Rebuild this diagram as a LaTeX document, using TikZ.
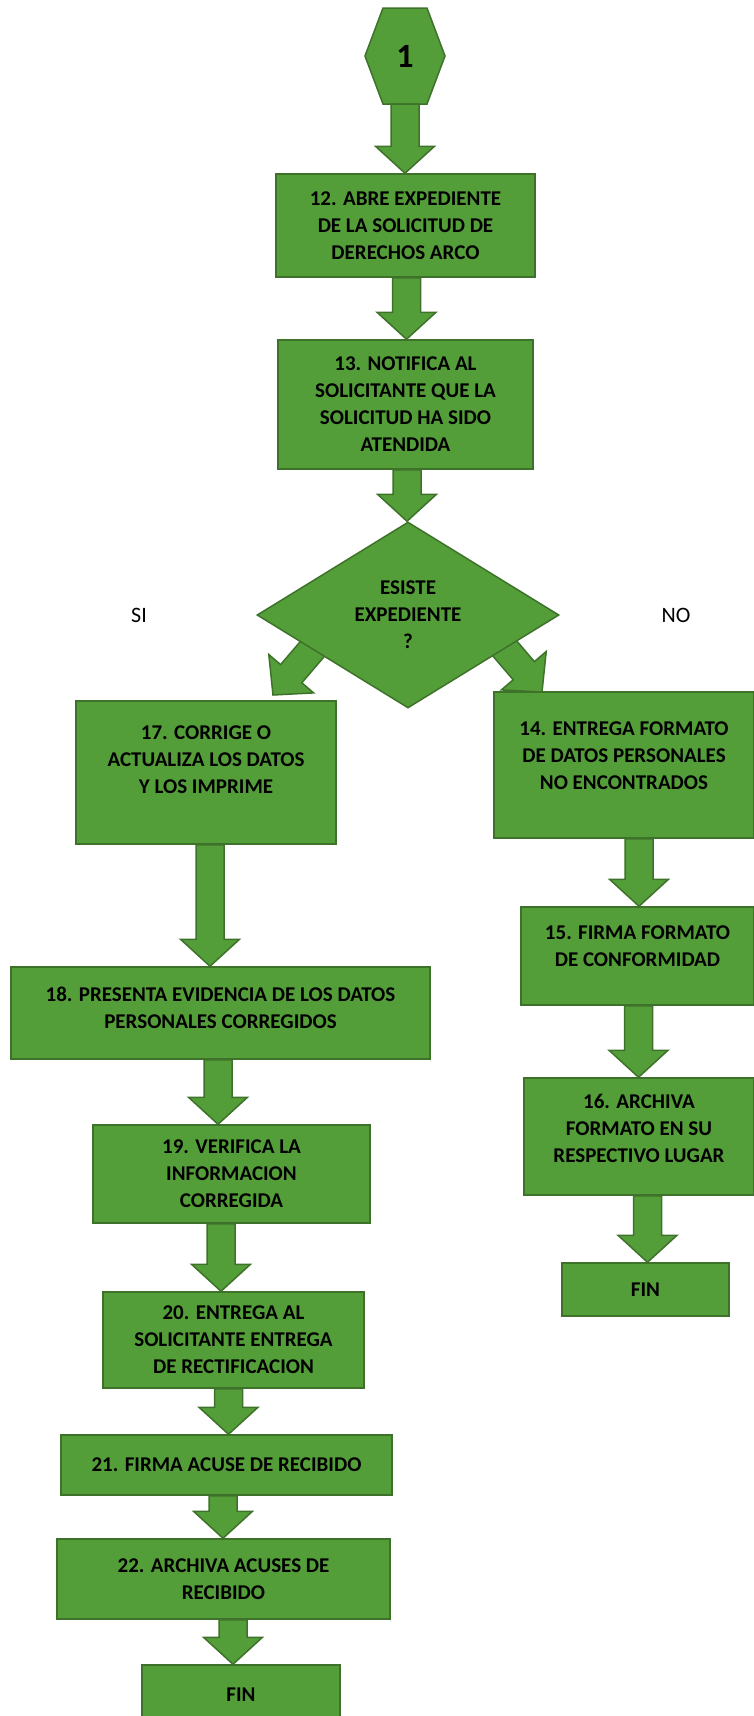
\documentclass[tikz,border=0pt]{standalone}
\usepackage{fontspec}
\setmainfont{Carlito}
\usetikzlibrary{calc,shapes.geometric}
\definecolor{verde}{RGB}{84,158,57}
\definecolor{verdeborde}{RGB}{62,114,42}
\tikzset{
	bloque/.style={draw=verdeborde, fill=verde, line width=1.5pt, line join=miter},
	caja/.style={bloque, rectangle, inner sep=2pt, align=center, font=\fontsize{21}{27}\selectfont\bfseries},
	etiqueta/.style={font=\fontsize{22}{26}\selectfont}
}
% flecha de bloque vertical: x del eje, nodo origen, nodo destino
\newcommand{\flechav}[3]{\draw[bloque] ($(#1,0 |- #2.south)+(-14,0)$) -- ($(#1,0 |- #3.north)+(-14,-27)$) -- ++(-15.5,0) -- (#1,0 |- #3.north) -- ($(#1,0 |- #3.north)+(29.5,-27)$) -- ++(-15.5,0) -- ($(#1,0 |- #2.south)+(14,0)$) -- cycle;}
% flecha de bloque inclinada, punta en (0,0)
\newcommand{\flechadiag}{\draw[bloque] (0,0) -- (40.6,-2.1) -- (28.8,-12.2) -- (62.6,-51.7) -- (41.4,-69.9) -- (7.6,-30.4) -- (-4.2,-40.5) -- cycle;}

\begin{document}
\begin{tikzpicture}[x=1pt, y=-1pt]
		%%%%% INICIO %%%%%
		\useasboundingbox (0,0) rectangle (754,1716);
		
		\draw[bloque] (365,56) -- (383,8) -- (427,8) -- (445,56) -- (427,104) -- (383,104) -- cycle;
		\node[minimum width=80pt, minimum height=96pt, font=\fontsize{34}{36}\selectfont\bfseries] (inicio) at (405,56) {1};
		
		\node[caja, minimum width=259pt, minimum height=103pt] (b12) at (405.5,225.5) {12. ABRE EXPEDIENTE\\DE LA SOLICITUD DE\\DERECHOS ARCO};
		\node[caja, minimum width=255pt, minimum height=129pt] (b13) at (405.5,404.5) {13. NOTIFICA AL\\SOLICITANTE QUE LA\\SOLICITUD HA SIDO\\ATENDIDA};
		
		\flechav{405}{inicio}{b12}
		\flechav{406.5}{b12}{b13}
		
		%%%%% DECISION %%%%%
		\coordinate (puntaSI) at (273,695);
		\coordinate (puntaNO) at (542,692);
		\begin{scope}[shift={(puntaSI)}]
			\flechadiag
		\end{scope}
		\begin{scope}[shift={(puntaNO)}, xscale=-1]
			\flechadiag
		\end{scope}
		
		\node[bloque, diamond, minimum width=302pt, minimum height=186pt, inner sep=0pt, align=center, font=\fontsize{21}{27}\selectfont\bfseries] (existe) at (408,615) {ESISTE\\EXPEDIENTE\\?};
		\flechav{407}{b13}{existe}
		
		\node[etiqueta] (si) at (139,615) {SI};
		\node[etiqueta] (no) at (676,615) {NO};
		
		%%%%% RAMA SI %%%%%
		\node[caja, minimum width=260pt, minimum height=143pt, text depth=25pt] (b17) at (206,772.5) {17. CORRIGE O\\ACTUALIZA LOS DATOS\\Y LOS IMPRIME};
		\node[caja, minimum width=419pt, minimum height=92pt, text depth=11pt] (b18) at (220.5,1013) {18. PRESENTA EVIDENCIA DE LOS DATOS\\PERSONALES CORREGIDOS};
		\node[caja, minimum width=277pt, minimum height=98pt] (b19) at (231.5,1174) {19. VERIFICA LA\\INFORMACION\\CORREGIDA};
		\node[caja, minimum width=261pt, minimum height=96pt] (b20) at (233.5,1340) {20. ENTREGA AL\\SOLICITANTE ENTREGA\\DE RECTIFICACION};
		\node[caja, minimum width=331pt, minimum height=60pt] (b21) at (226.5,1465) {21. FIRMA ACUSE DE RECIBIDO};
		\node[caja, minimum width=333pt, minimum height=80pt] (b22) at (223.5,1579) {22. ARCHIVA ACUSES DE\\RECIBIDO};
		\node[caja, minimum width=198pt, minimum height=60pt] (fin1) at (241,1695) {FIN};
		
		\flechav{210}{b17}{b18}
		\flechav{218}{b18}{b19}
		\flechav{221}{b19}{b20}
		\flechav{228.5}{b20}{b21}
		\flechav{223}{b21}{b22}
		\flechav{233}{b22}{fin1}
		
		%%%%% RAMA NO %%%%%
		\node[caja, minimum width=260pt, minimum height=146pt, text depth=18pt] (b14) at (624,765) {14. ENTREGA FORMATO\\DE DATOS PERSONALES\\NO ENCONTRADOS};
		\node[caja, minimum width=233pt, minimum height=98pt, text depth=20pt] (b15) at (637.5,956) {15. FIRMA FORMATO\\DE CONFORMIDAD};
		\node[caja, minimum width=230pt, minimum height=117pt, text depth=17pt] (b16) at (639,1136.5) {16. ARCHIVA\\FORMATO EN SU\\RESPECTIVO LUGAR};
		\node[caja, minimum width=167pt, minimum height=53pt] (fin2) at (645.5,1289.5) {FIN};
		
		\flechav{639}{b14}{b15}
		\flechav{638.5}{b15}{b16}
		\flechav{647.5}{b16}{fin2}
		
		%%%%% FIN %%%%%
	\end{tikzpicture}
\end{document}
